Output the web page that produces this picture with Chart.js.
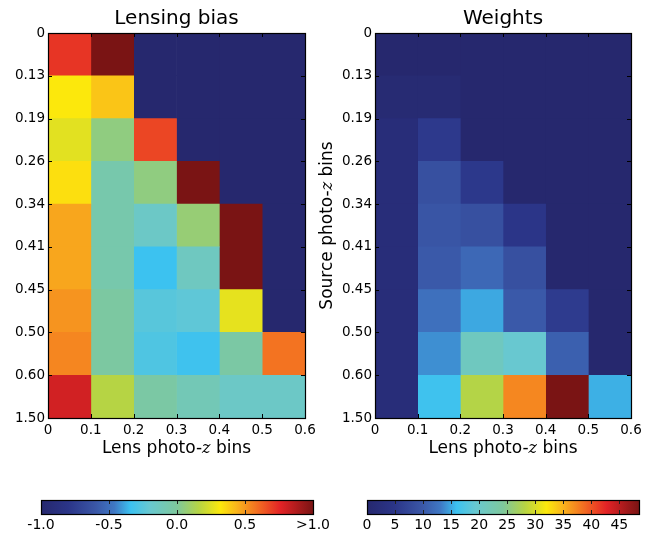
<!DOCTYPE html>
<html><head><meta charset="utf-8">
<script src="https://cdn.jsdelivr.net/npm/chart.js@4.4.1/dist/chart.umd.min.js"></script>
<style>
html,body{margin:0;padding:0;background:#fff;}
body{width:660px;height:533px;position:relative;overflow:hidden;}
canvas{position:absolute;display:block;}
</style></head><body>
<canvas id="hmBias" width="330" height="460" style="left:0;top:0"></canvas>
<canvas id="hmWeight" width="350" height="460" style="left:310px;top:0"></canvas>
<canvas id="cbBias" width="350" height="53" style="left:0;top:480px"></canvas>
<canvas id="cbWeight" width="330" height="53" style="left:330px;top:480px"></canvas>
<script>
// ---- data ----
const lensEdges = [0, 0.1, 0.2, 0.3, 0.4, 0.5, 0.6];
const lensTickLabels = ['0', '0.1', '0.2', '0.3', '0.4', '0.5', '0.6'];
const sourceEdgeLabels = ['0', '0.13', '0.19', '0.26', '0.34', '0.41', '0.45', '0.50', '0.60', '1.50'];
const sourceBins = ['0-0.13', '0.13-0.19', '0.19-0.26', '0.26-0.34', '0.34-0.41', '0.41-0.45', '0.45-0.50', '0.50-0.60', '0.60-1.50'];

// Lensing bias, one array per source bin (top to bottom), values per lens bin
const biasS1 = [0.72, 1.00, -1, -1, -1, -1];
const biasS2 = [0.32, 0.40, -1, -1, -1, -1];
const biasS3 = [0.26, 0.05, 0.68, -1, -1, -1];
const biasS4 = [0.34, -0.06, 0.05, 1.00, -1, -1];
const biasS5 = [0.47, -0.06, -0.16, 0.07, 1.00, -1];
const biasS6 = [0.47, -0.06, -0.34, -0.14, 1.00, -1];
const biasS7 = [0.51, -0.02, -0.25, -0.23, 0.27, -1];
const biasS8 = [0.54, -0.02, -0.28, -0.33, -0.03, 0.58];
const biasS9 = [0.80, 0.16, -0.03, -0.10, -0.16, -0.16];

// Weights
const weightS1 = [0, 0, 0, 0, 0, 0];
const weightS2 = [1, 1, 0, 0, 0, 0];
const weightS3 = [2, 5.5, 0, 0, 0, 0];
const weightS4 = [2, 8.8, 5.3, 0, 0, 0];
const weightS5 = [2, 9.5, 8.8, 4.8, 0, 0];
const weightS6 = [2, 10, 11.5, 8.8, 0, 0];
const weightS7 = [2, 12.3, 15, 10, 5.8, 0];
const weightS8 = [2, 14, 21, 19.4, 10.7, 0];
const weightS9 = [2, 16.2, 28, 37.3, 48.5, 15.3];

const biasRange = [-1, 1];
const weightRange = [0, 48.5];
const biasTicks = [-1, -0.5, 0, 0.5, 1];
const biasTickLabels = ['-1.0', '-0.5', '0.0', '0.5', '>1.0'];
const weightTicks = [0, 5, 10, 15, 20, 25, 30, 35, 40, 45];
const weightTickLabels = ['0', '5', '10', '15', '20', '25', '30', '35', '40', '45'];

// ---- colormap ----
const cmapStops = [
  [0.00, '#26286e'], [0.10, '#2b3588'], [0.20, '#3a56a6'], [0.27, '#3f78c4'],
  [0.33, '#3cc2f0'], [0.40, '#68c8d0'], [0.50, '#7ec89c'], [0.58, '#b6d444'],
  [0.66, '#fce80c'], [0.72, '#f9b41c'], [0.80, '#f26a22'], [0.88, '#e32326'],
  [1.00, '#7a1414']
];
function hex2rgb(h){return [parseInt(h.slice(1,3),16),parseInt(h.slice(3,5),16),parseInt(h.slice(5,7),16)];}
function cmap(f){
  f = Math.max(0, Math.min(1, f));
  for (let i = 1; i < cmapStops.length; i++) {
    if (f <= cmapStops[i][0]) {
      const [f0,c0] = cmapStops[i-1], [f1,c1] = cmapStops[i];
      const t = (f - f0) / (f1 - f0), a = hex2rgb(c0), b = hex2rgb(c1);
      return 'rgb(' + a.map((v,k)=>Math.round(v + (b[k]-v)*t)).join(',') + ')';
    }
  }
  return cmapStops[cmapStops.length-1][1];
}

const FONT = '"DejaVu Sans", sans-serif';
Chart.defaults.font.family = FONT;
Chart.defaults.color = '#000';

function drawAxisTitle(ctx, x, y, rotate) {
  const parts = [['Lens photo-', '17px ' + FONT], ['z', 'italic 16px "DejaVu Serif", serif'], [' bins', '17px ' + FONT]];
  if (rotate) parts[0][0] = 'Source photo-';
  let total = 0;
  parts.forEach(p => { ctx.font = p[1]; p.push(ctx.measureText(p[0]).width); total += p[2]; });
  ctx.save();
  ctx.translate(x, y);
  if (rotate) ctx.rotate(-Math.PI / 2);
  ctx.fillStyle = '#000'; ctx.textBaseline = 'alphabetic'; ctx.textAlign = 'left';
  let cx = -total / 2;
  parts.forEach(p => { ctx.font = p[1]; ctx.fillText(p[0], cx, 0); cx += p[2]; });
  ctx.restore();
}

function heatmap(id, rows, range, title, axisWidth, padRight, yTitle) {
  const [vmin, vmax] = range;
  const datasets = lensEdges.slice(0, -1).map((x0, c) => ({
    data: rows.map(() => [lensEdges[c], lensEdges[c + 1]]),
    backgroundColor: rows.map(r => cmap((r[c] - vmin) / (vmax - vmin))),
    borderWidth: 0, barPercentage: 1, categoryPercentage: 1, grouped: false
  }));
  const framePlugin = {
    id: 'frame',
    afterDraw(chart) {
      const ctx = chart.ctx, a = chart.chartArea;
      const xs = chart.scales.x, ys = chart.scales.yl;
      ctx.save();
      ctx.strokeStyle = '#000'; ctx.lineWidth = 1;
      ctx.beginPath();
      xs.ticks.forEach(t => {
        const px = Math.round(xs.getPixelForValue(t.value)) + 0.5;
        ctx.moveTo(px, a.bottom); ctx.lineTo(px, a.bottom - 4);
        ctx.moveTo(px, a.top); ctx.lineTo(px, a.top + 4);
      });
      ys.ticks.forEach(t => {
        const py = Math.round(ys.getPixelForValue(t.value)) + 0.5;
        ctx.moveTo(a.left, py); ctx.lineTo(a.left + 4, py);
        ctx.moveTo(a.right, py); ctx.lineTo(a.right - 4, py);
      });
      ctx.stroke();
      ctx.lineWidth = 1.2;
      ctx.strokeRect(Math.round(a.left) + 0.5, Math.round(a.top) + 0.5, Math.round(a.right - a.left), Math.round(a.bottom - a.top));
      ctx.fillStyle = '#000';
      ctx.font = '20px ' + FONT; ctx.textAlign = 'center'; ctx.textBaseline = 'alphabetic';
      ctx.fillText(title, (a.left + a.right) / 2, 24);
      drawAxisTitle(ctx, (a.left + a.right) / 2, 453, false);
      if (yTitle) drawAxisTitle(ctx, 22, (a.top + a.bottom) / 2, true);
      ctx.restore();
    }
  };
  return new Chart(document.getElementById(id), {
    type: 'bar',
    data: { labels: sourceBins, datasets },
    options: {
      indexAxis: 'y', responsive: false, animation: false, devicePixelRatio: 1,
      layout: { padding: { top: 33, right: padRight, left: 0, bottom: 0 } },
      plugins: { legend: { display: false }, tooltip: { enabled: false }, title: { display: false } },
      scales: {
        x: {
          type: 'linear', position: 'bottom', min: 0, max: 0.6, offset: false,
          grid: { display: false, drawTicks: false }, border: { display: false },
          afterBuildTicks: s => { s.ticks = lensEdges.map(v => ({ value: v })); },
          ticks: { callback: (v, i) => lensTickLabels[i], font: { size: 13.5 }, color: '#000', padding: 4, maxRotation: 0, autoSkip: false },
          afterFit: s => { s.height = 42; }
        },
        y: { display: false, offset: true },
        yl: {
          type: 'linear', position: 'left', min: 0, max: 9, reverse: true, offset: false,
          grid: { display: false, drawTicks: false, offset: false }, border: { display: false },
          afterBuildTicks: s => { s.ticks = sourceEdgeLabels.map((_, i) => ({ value: i })); },
          ticks: { callback: (v, i) => sourceEdgeLabels[i], font: { size: 13.5 }, color: '#000', padding: 3, autoSkip: false },
          afterFit: s => { s.width = axisWidth; }
        }
      }
    },
    plugins: [framePlugin]
  });
}

function colorbar(id, range, ticks, labels, padLeft, padRight) {
  const [vmin, vmax] = range;
  const cbPlugin = {
    id: 'cbframe',
    afterDraw(chart) {
      const ctx = chart.ctx, a = chart.chartArea, xs = chart.scales.x;
      ctx.save(); ctx.strokeStyle = '#222'; ctx.lineWidth = 1;
      ctx.beginPath();
      ticks.forEach(v => {
        const px = Math.round(xs.getPixelForValue(v)) + 0.5;
        ctx.moveTo(px, a.top); ctx.lineTo(px, a.top + 4);
        ctx.moveTo(px, a.bottom); ctx.lineTo(px, a.bottom - 4);
      });
      ctx.stroke();
      ctx.lineWidth = 1.2; ctx.strokeStyle = '#000';
      ctx.strokeRect(Math.round(a.left) + 0.5, Math.round(a.top) + 0.5, Math.round(a.right - a.left), Math.round(a.bottom - a.top));
      ctx.restore();
    }
  };
  return new Chart(document.getElementById(id), {
    type: 'bar',
    data: { labels: ['scale'], datasets: [{
      data: [[vmin, vmax]],
      backgroundColor: c => {
        const ca = c.chart.chartArea;
        if (!ca) return '#000';
        const g = c.chart.ctx.createLinearGradient(ca.left, 0, ca.right, 0);
        cmapStops.forEach(([f, col]) => g.addColorStop(f, col));
        return g;
      },
      borderWidth: 0, barPercentage: 1, categoryPercentage: 1
    }] },
    options: {
      indexAxis: 'y', responsive: false, animation: false, devicePixelRatio: 1,
      layout: { padding: { top: 20, left: padLeft, right: padRight, bottom: 0 } },
      plugins: { legend: { display: false }, tooltip: { enabled: false } },
      scales: {
        x: {
          type: 'linear', min: vmin, max: vmax, offset: false,
          grid: { display: false, drawTicks: false }, border: { display: false },
          afterBuildTicks: s => { s.ticks = ticks.map(v => ({ value: v })); },
          ticks: { callback: (v, i) => labels[i], font: { size: 14 }, color: '#000', padding: 3, maxRotation: 0, autoSkip: false },
          afterFit: s => { s.height = 19; }
        },
        y: { display: false }
      }
    },
    plugins: [cbPlugin]
  });
}

const biasRows = [biasS1, biasS2, biasS3, biasS4, biasS5, biasS6, biasS7, biasS8, biasS9];
const weightRows = [weightS1, weightS2, weightS3, weightS4, weightS5, weightS6, weightS7, weightS8, weightS9];

heatmap('hmBias', biasRows, biasRange, 'Lensing bias', 48, 25, false);
heatmap('hmWeight', weightRows, weightRange, 'Weights', 65, 29, true);
colorbar('cbBias', biasRange, biasTicks, biasTickLabels, 41, 37);
colorbar('cbWeight', weightRange, weightTicks, weightTickLabels, 37, 21);
</script>
</body></html>
